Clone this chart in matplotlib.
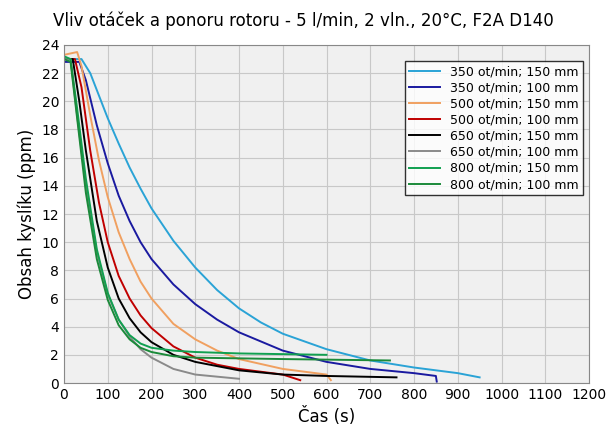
import matplotlib
matplotlib.use('Agg')
import matplotlib.pyplot as plt

# (time s, ppm)
labels = ['350 ot/min; 150 mm', '350 ot/min; 100 mm', '500 ot/min; 150 mm', '500 ot/min; 100 mm',
          '650 ot/min; 150 mm', '650 ot/min; 100 mm', '800 ot/min; 150 mm', '800 ot/min; 100 mm']
colors = ['#2aa3d6', '#1a1aa0', '#f0a060', '#c00000', '#000000', '#8a8a8a', '#10a050', '#1b8a3a']

t_350_150 = [0, 40, 60, 80, 100, 125, 150, 175, 200, 250, 300, 350, 400, 450, 500, 600, 700, 800, 900, 950]
y_350_150 = [23.0, 23.0, 22.0, 20.4, 18.8, 17.0, 15.3, 13.8, 12.4, 10.1, 8.2, 6.6, 5.3, 4.3, 3.5, 2.4, 1.6, 1.1, 0.7, 0.4]
t_350_100 = [0, 35, 50, 75, 100, 125, 150, 175, 200, 250, 300, 350, 400, 500, 600, 700, 800, 850, 852]
y_350_100 = [22.8, 22.8, 21.5, 18.3, 15.6, 13.3, 11.5, 10.0, 8.8, 7.0, 5.6, 4.5, 3.6, 2.3, 1.5, 1.0, 0.7, 0.5, 0.1]
t_500_150 = [0, 30, 40, 60, 80, 100, 125, 150, 175, 200, 250, 300, 350, 400, 500, 600, 610]
y_500_150 = [23.3, 23.5, 22.5, 19.0, 15.8, 13.2, 10.7, 8.8, 7.2, 6.0, 4.2, 3.1, 2.3, 1.7, 1.0, 0.6, 0.2]
t_500_100 = [0, 25, 40, 60, 80, 100, 125, 150, 175, 200, 250, 300, 350, 400, 500, 540]
y_500_100 = [23.0, 23.0, 21.0, 16.5, 12.8, 10.0, 7.6, 6.0, 4.8, 3.9, 2.6, 1.8, 1.3, 1.0, 0.6, 0.2]
t_650_150 = [0, 20, 35, 50, 75, 100, 125, 150, 175, 200, 250, 300, 400, 500, 600, 760]
y_650_150 = [23.0, 23.0, 20.0, 16.5, 11.5, 8.2, 6.0, 4.6, 3.6, 2.9, 2.0, 1.5, 0.9, 0.6, 0.5, 0.4]
t_650_100 = [0, 15, 30, 50, 75, 100, 125, 150, 175, 200, 250, 300, 400]
y_650_100 = [23.0, 23.0, 19.0, 14.0, 9.3, 6.3, 4.5, 3.3, 2.4, 1.8, 1.0, 0.6, 0.3]
t_800_150 = [0, 15, 30, 50, 75, 100, 125, 150, 175, 200, 250, 300, 400, 600]
y_800_150 = [23.2, 23.0, 19.5, 14.5, 9.5, 6.4, 4.5, 3.4, 2.8, 2.5, 2.3, 2.2, 2.1, 2.0]
t_800_100 = [0, 15, 30, 50, 75, 100, 125, 150, 175, 200, 250, 300, 500, 745]
y_800_100 = [23.0, 22.8, 18.8, 13.5, 8.8, 5.9, 4.1, 3.1, 2.5, 2.2, 1.9, 1.8, 1.7, 1.6]

series = [(t_350_150, y_350_150), (t_350_100, y_350_100), (t_500_150, y_500_150), (t_500_100, y_500_100),
          (t_650_150, y_650_150), (t_650_100, y_650_100), (t_800_150, y_800_150), (t_800_100, y_800_100)]

fig = plt.figure(figsize=(6.07, 4.48), dpi=100)
ax = fig.add_axes([64 / 607, 65 / 448, 525 / 607, 338 / 448])
ax.set_facecolor('#f0f0f0')
for (t, y), lab, c in zip(series, labels, colors):
    ax.plot(t, y, color=c, lw=1.4, label=lab)

ax.set_xlim(0, 1200)
ax.set_ylim(0, 24)
ax.set_xticks(range(0, 1201, 100))
ax.set_yticks(range(0, 25, 2))
ax.tick_params(labelsize=10, length=0)
ax.grid(True, color='#c8c8c8', lw=0.8)
ax.set_axisbelow(True)
for s in ax.spines.values():
    s.set_color('#888888')
ax.set_xlabel('Čas (s)', fontsize=12)
ax.set_ylabel('Obsah kyslíku (ppm)', fontsize=12)
fig.suptitle('Vliv otáček a ponoru rotoru - 5 l/min, 2 vln., 20°C, F2A D140', fontsize=12, y=0.975)
leg = ax.legend(loc='upper right', fontsize=9, frameon=True, fancybox=False, handlelength=2.5,
                borderpad=0.3, labelspacing=0.25, bbox_to_anchor=(1.0, 0.97))
leg.get_frame().set_edgecolor('black')
fig.savefig('out.png')
